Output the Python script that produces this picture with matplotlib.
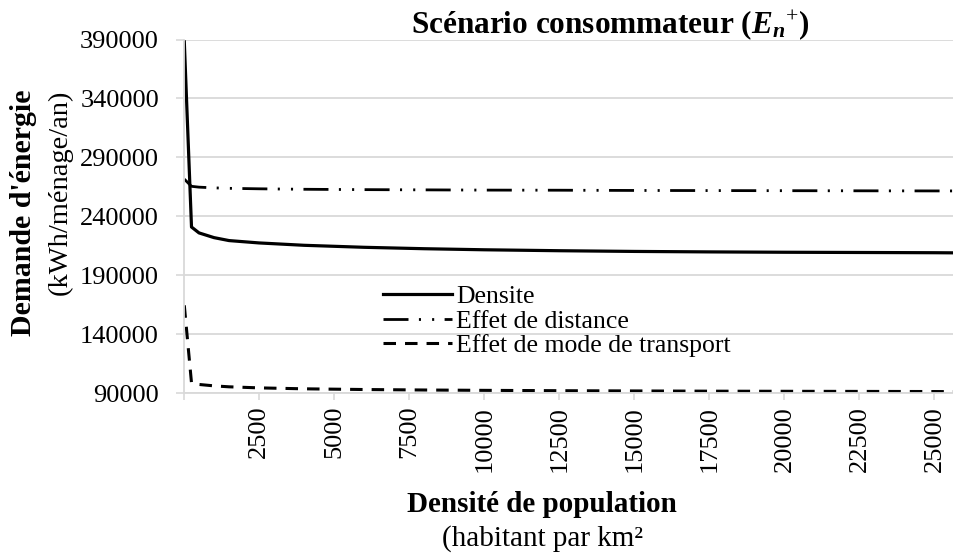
import matplotlib
matplotlib.use("Agg")
import matplotlib.pyplot as plt

plt.rcParams['font.family'] = ['Liberation Serif', 'DejaVu Serif']
plt.rcParams['mathtext.fontset'] = 'custom'
plt.rcParams['mathtext.it'] = 'Liberation Serif:italic:bold'
plt.rcParams['mathtext.rm'] = 'Liberation Serif'
plt.rcParams['mathtext.bf'] = 'Liberation Serif:bold'
plt.rcParams['lines.scale_dashes'] = False

# densite de population (habitant par km2)
densite_pop = [10, 250, 500, 1000, 1500, 2500, 4000, 6000, 8000, 10000,
               12500, 15000, 17500, 20000, 22500, 25000, 25650]
# demande d'energie (kWh/menage/an)
densite = [388000, 231000, 226000, 222000, 219500, 217500, 215500, 213800, 212600,
           211700, 210900, 210300, 209900, 209600, 209400, 209200, 209100]
effet_distance = [271600, 265500, 264800, 264200, 263800, 263400, 263000, 262700, 262500,
                  262300, 262200, 262000, 261900, 261800, 261700, 261600, 261600]
effet_transport = [164600, 98800, 97500, 96300, 95500, 94600, 93800, 93200, 92800,
                   92500, 92200, 92000, 91800, 91700, 91600, 91500, 91400]

x_ticks = list(range(0, 25001, 2500))
x_labels = [''] + [str(v) for v in x_ticks[1:]]
y_ticks = list(range(90000, 390001, 50000))

grid_col = '#d9d9d9'

fig = plt.figure(figsize=(9.54, 5.53), dpi=100)
ax = fig.add_axes([184/954, 1 - 393.3/553, 1 - 184/954, (393.3 - 39.5)/553])

ax.plot(densite_pop, densite, color='black', lw=2.3, label='Densite', solid_joinstyle='round')
ax.plot(densite_pop, effet_distance, color='black', lw=2.0,
        dashes=(18, 7.5, 1.5, 8, 1.5, 7.5), label='Effet de distance')
ax.plot(densite_pop, effet_transport, color='black', lw=2.2,
        dashes=(9, 6.5), label='Effet de mode de transport')

ax.set_xlim(0, 25650)
ax.set_ylim(90000, 390000)
ax.set_xticks(x_ticks)
ax.set_xticklabels(x_labels, rotation=90)
ax.set_yticks(y_ticks)
ax.tick_params(axis='x', length=5, width=1.2, color=grid_col, pad=4, labelsize=19)
ax.tick_params(axis='y', length=6, width=1.2, color=grid_col, pad=12, labelsize=19)
ax.yaxis.grid(True, color=grid_col, lw=1.3)
ax.set_axisbelow(True)
for s in ['top', 'right']:
    ax.spines[s].set_visible(False)
for s in ['left', 'bottom']:
    ax.spines[s].set_color(grid_col)
    ax.spines[s].set_linewidth(1.3)

leg = ax.legend(loc='upper left', bbox_to_anchor=(199/770, (393.3 - 285)/353.8),
                frameon=False, fontsize=18.5, handlelength=2.7, handletextpad=0.15,
                labelspacing=0.06, borderpad=0, borderaxespad=0)

fig.text(610/954, 1 - 25/553, r'Scénario consommateur ($E_n{}^{+}$)',
         fontsize=22.5, fontweight='bold', ha='center', va='center')

fig.text(24/954, 1 - 90/553, "Demande d'énergie", fontsize=21.5, fontweight='bold',
         rotation=90, rotation_mode='anchor', ha='right', va='center')
fig.text(60/954, 1 - 90/553, '(kWh/ménage/an)', fontsize=20.5,
         rotation=90, rotation_mode='anchor', ha='right', va='center')

fig.text(542/954, 1 - 512/553, 'Densité de population', fontsize=21, fontweight='bold',
         ha='center', va='baseline')
fig.text(542/954, 1 - 546/553, '(habitant par km²', fontsize=21,
         ha='center', va='baseline')

fig.savefig('out.png', dpi=100)
